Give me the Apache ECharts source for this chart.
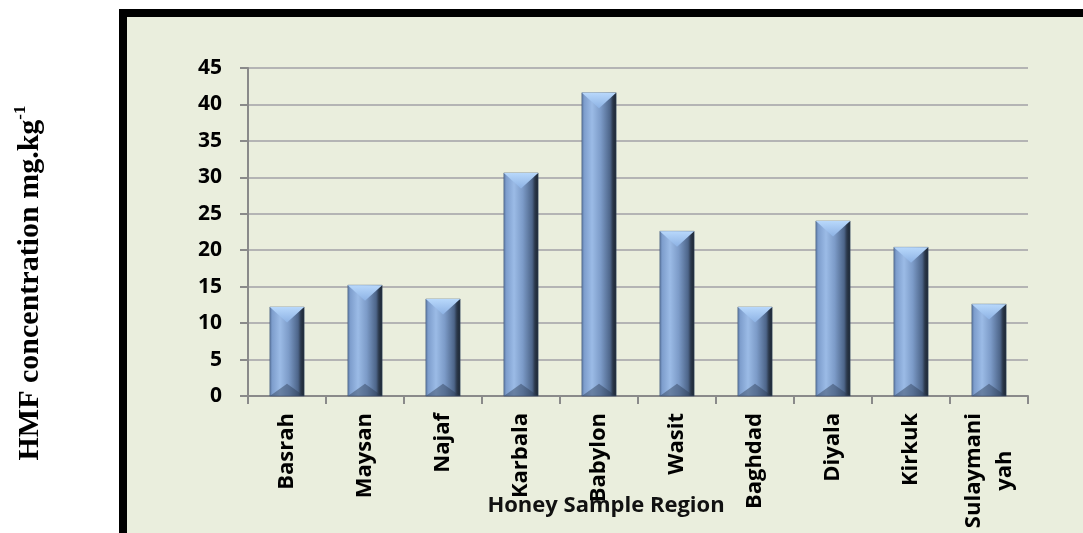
<!DOCTYPE html>
<html>
<head>
<meta charset="utf-8">
<script src="https://cdn.jsdelivr.net/npm/echarts@6/dist/echarts.min.js"></script>
<style>
  html, body { margin: 0; padding: 0; background: #ffffff; }
  #chart { width: 1083px; height: 533px; }
</style>
</head>
<body>
<div id="chart"></div>
<script>
// data
var regions = ['Basrah', 'Maysan', 'Najaf', 'Karbala', 'Babylon', 'Wasit', 'Baghdad', 'Diyala', 'Kirkuk', 'Sulaymani\nyah'];
var hmf = [12.2, 15.2, 13.3, 30.6, 41.6, 22.6, 12.2, 24.0, 20.4, 12.6];
var yTicks = [0, 5, 10, 15, 20, 25, 30, 35, 40, 45];

var chartDom = document.getElementById('chart');
var myChart = echarts.init(chartDom);

// bevelled bar, position from the axes
function renderBar(params, api) {
  var top = api.coord([api.value(0), api.value(1)]);
  var base = api.coord([api.value(0), 0]);
  var w = api.size([1, 0])[0] * 0.44;
  var x0 = top[0] - w / 2, x1 = top[0] + w / 2, cx = top[0];
  var yT = top[1], yB = base[1];
  var tri = Math.min(w * 0.45, (yB - yT) / 2);
  return {
    type: 'group',
    children: [
      {
        type: 'rect',
        shape: { x: x0, y: yT, width: w, height: yB - yT },
        style: {
          fill: new echarts.graphic.LinearGradient(0, 0, 1, 0, [
            { offset: 0, color: '#5b78a3' },
            { offset: 0.08, color: '#7e9ecd' },
            { offset: 0.3, color: '#9bbbe6' },
            { offset: 0.55, color: '#7c9bc8' },
            { offset: 0.82, color: '#4d6589' },
            { offset: 0.9, color: '#2b384b' },
            { offset: 1, color: '#1b2430' }
          ]),
          stroke: '#3f5270',
          lineWidth: 0.5
        }
      },
      {
        type: 'polygon',
        shape: { points: [[x0, yT], [x1, yT], [cx, yT + tri]] },
        style: {
          fill: new echarts.graphic.LinearGradient(0, 0, 0, 1, [
            { offset: 0, color: '#b8d8fb' },
            { offset: 1, color: '#8db2e4' }
          ])
        }
      },
      {
        type: 'polygon',
        shape: { points: [[x0, yB], [x1, yB], [cx, yB - tri * 0.8]] },
        style: { fill: 'rgba(45,60,85,0.45)' }
      }
    ]
  };
}

var option = {
  animation: false,
  backgroundColor: '#ffffff',
  graphic: [
    {
      type: 'rect',
      z: -10,
      shape: { x: 123, y: 13, width: 1000, height: 600 },
      style: { fill: '#eaeedd', stroke: '#000000', lineWidth: 8 }
    },
    {
      type: 'text',
      x: 30,
      y: 283,
      rotation: Math.PI / 2,
      style: {
        text: '{a|HMF concentration mg.kg}{s|-1}',
        align: 'center',
        verticalAlign: 'middle',
        rich: {
          a: { fontFamily: 'Liberation Serif', fontWeight: 'bold', fontSize: 30, fill: '#000', lineHeight: 36 },
          s: { fontFamily: 'Liberation Serif', fontWeight: 'bold', fontSize: 17, fill: '#000', verticalAlign: 'top', lineHeight: 36 }
        }
      }
    },
    {
      // x axis title, sits over the rotated labels as in the original
      type: 'text',
      x: 606,
      y: 506,
      z: 100,
      style: {
        text: 'Honey Sample Region',
        align: 'center',
        verticalAlign: 'middle',
        fontFamily: 'Open Sans',
        fontWeight: 'bold',
        fontSize: 22,
        fill: '#111'
      }
    }
  ],
  grid: { left: 248, right: 55, top: 68, bottom: 137, outerBoundsMode: 'none' },
  xAxis: {
    type: 'category',
    data: regions,
    axisLine: { lineStyle: { color: '#8a8a8a', width: 2 } },
    axisTick: { show: true, length: 8, alignWithLabel: false, lineStyle: { color: '#8a8a8a', width: 2 } },
    axisLabel: {
      interval: 0,
      rotate: 90,
      margin: 17,
      formatter: function (v) {
        return v.split('\n').map(function (s) { return '{c|' + s + '}'; }).join('\n');
      },
      rich: {
        c: { fontFamily: 'Open Sans', fontWeight: 'bold', fontSize: 22, color: '#000', align: 'center', lineHeight: 31 }
      }
    }
  },
  yAxis: {
    type: 'value',
    min: 0,
    max: 45,
    interval: 5,
    axisLine: { show: true, lineStyle: { color: '#8a8a8a', width: 2 } },
    axisTick: { show: true, length: 8, lineStyle: { color: '#8a8a8a', width: 2 } },
    splitLine: { lineStyle: { color: '#b4b4b4', width: 2 } },
    axisLabel: {
      margin: 26,
      fontFamily: 'Open Sans',
      fontWeight: 'bold',
      fontSize: 21,
      color: '#000',
      formatter: function (v) { return yTicks.indexOf(v) >= 0 ? String(v) : ''; }
    }
  },
  series: [
    {
      type: 'custom',
      renderItem: renderBar,
      encode: { x: 0, y: 1 },
      data: hmf.map(function (v, i) { return [i, v]; }),
      z: 5
    }
  ]
};

myChart.setOption(option);
</script>
</body>
</html>
